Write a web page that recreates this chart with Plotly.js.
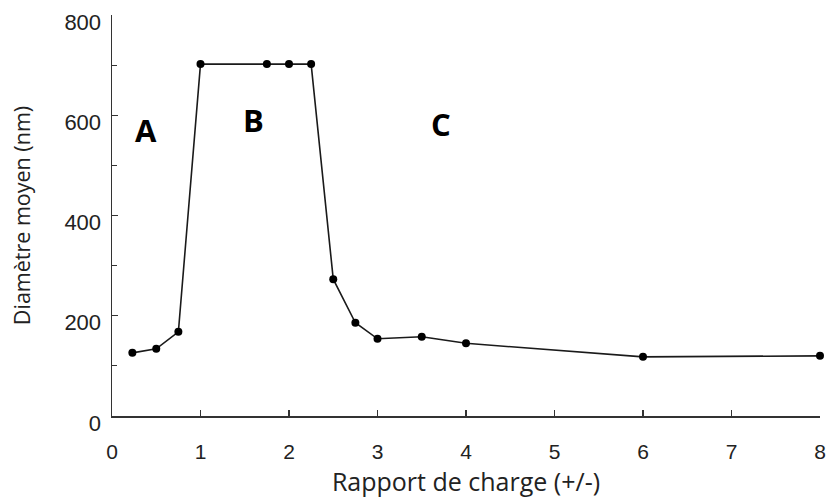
<!DOCTYPE html>
<html>
<head>
<meta charset="utf-8">
<script src="https://cdn.plot.ly/plotly-3.0.1.min.js"></script>
<style>html,body{margin:0;padding:0;background:#fff;}#chart{width:830px;height:502px;}</style>
</head>
<body>
<div id="chart"></div>
<script>
const chargeRatio = [0.23, 0.5, 0.75, 1, 1.75, 2, 2.25, 2.5, 2.75, 3, 3.5, 4, 6, 8];
const meanDiameter = [126, 134, 168, 702, 702, 702, 702, 273, 186, 154, 158, 145, 118, 120];
const zoneLabels = ["A", "B", "C"];
const zoneX = [0.385, 1.60, 3.72];
const zoneY = [570, 590, 583];
const xTicks = [0, 1, 2, 3, 4, 5, 6, 7, 8];
const yTicks = [0, 200, 400, 600, 800];

const trace = {
  x: chargeRatio,
  y: meanDiameter,
  type: 'scatter',
  mode: 'lines+markers',
  line: {color: '#1a1a1a', width: 1.6},
  marker: {color: '#000', size: 8},
  hoverinfo: 'x+y',
  cliponaxis: false
};

const annotations = zoneLabels.map((t, i) => ({
  x: zoneX[i], y: zoneY[i], xref: 'x', yref: 'y',
  text: '<b>' + t + '</b>', showarrow: false,
  font: {family: 'Open Sans, Arial, sans-serif', size: 31, color: '#000'}
}));

const layout = {
  width: 830, height: 502,
  margin: {l: 112, r: 10, t: 15, b: 86},
  paper_bgcolor: '#fff', plot_bgcolor: '#fff',
  showlegend: false,
  xaxis: {
    range: [0, 8], tickvals: xTicks, ticktext: xTicks.map(String),
    showgrid: false, zeroline: false, showline: true, linecolor: '#333', linewidth: 1.5,
    ticks: 'inside', ticklen: 6, tickwidth: 1.3, tickcolor: '#333',
    tickfont: {family: 'Liberation Sans, Arial, sans-serif', size: 21, color: '#222'},
    ticklabelstandoff: 16,
    title: {text: 'Rapport de charge (+/-)', font: {family: 'Open Sans, sans-serif', size: 25, color: '#222'}, standoff: 12}
  },
  yaxis: {
    range: [0, 800], tickvals: yTicks, ticktext: yTicks.map(String),
    showgrid: false, zeroline: false, showline: true, linecolor: '#333', linewidth: 1.5,
    ticks: 'inside', ticklen: 6, tickwidth: 1.3, tickcolor: '#333',
    minor: {dtick: 100, ticks: 'inside', ticklen: 5, tickcolor: '#333', tickwidth: 1.2, showgrid: false},
    tickfont: {family: 'Liberation Sans, Arial, sans-serif', size: 22, color: '#222'},
    ticklabelstandoff: 5,
    ticklabelshift: 7,
    title: {text: 'Diamètre moyen (nm)', font: {family: 'Open Sans, sans-serif', size: 21.5, color: '#222'}, standoff: 28}
  },
  annotations: annotations
};

Plotly.newPlot('chart', [trace], layout, {displayModeBar: false, staticPlot: true});
</script>
</body>
</html>
